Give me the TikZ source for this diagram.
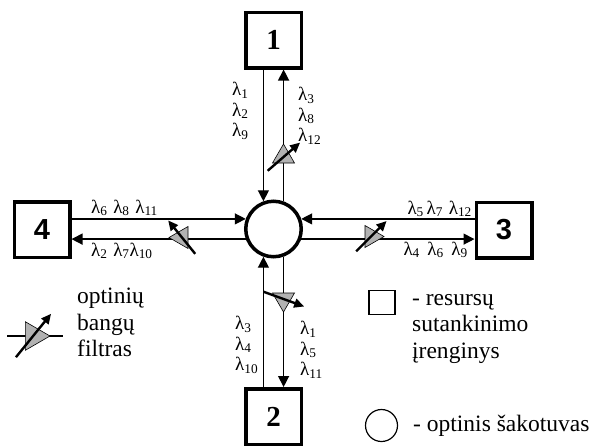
\documentclass[tikz,border=0pt]{standalone}
\usepackage{fontspec}
\setmainfont{Liberation Serif}
\newfontfamily\arialfont{Liberation Sans}
\usetikzlibrary{arrows.meta}

\tikzset{pics/filtras/.style={code={
    \draw[fill=gray!60, line width=0.6pt] (10,0) -- (-9,11) -- (-9,-11) -- cycle;
    \draw[line width=2.4pt, -{Triangle[length=10pt, width=9pt]}] (-3,0) ++(#1+180:21) -- ++(#1:43);
}}}

\begin{document}
\begin{tikzpicture}[x=1pt, y=1pt,
    blokas/.style={draw, line width=3.5pt, minimum size=55.5pt, inner sep=0pt, font=\fontsize{29}{29}\selectfont\bfseries},
    saka/.style={circle, draw, line width=3.5pt, minimum size=55.5pt, inner sep=0pt},
    kanalas/.style={line width=1.3pt, -{Triangle[length=11pt, width=11pt]}},
    bangos/.style={font=\fontsize{19}{20.5}\selectfont, inner sep=0pt, align=left},
    tekstas/.style={font=\fontsize{23.5}{26.5}\selectfont, inner sep=0pt, align=left}]
    \useasboundingbox (0,0) rectangle (596,-445);
    % Multiplexers and splitter
    \node[blokas] (b1) at (273.5,-40) {1};
    \node[blokas] (b2) at (273.5,-416.5) {2};
    \node[blokas, font=\fontsize{29}{29}\selectfont\arialfont\bfseries] (b3) at (504,-230) {3};
    \node[blokas, font=\fontsize{29}{29}\selectfont\arialfont\bfseries] (b4) at (42,-229.5) {4};
    \node[saka] (hub) at (273.5,-229) {};
    % Channels
    \draw[kanalas] (b1.south -| hub.110) -- (hub.110);
    \draw[kanalas] (hub.70) -- (hub.70 |- b1.south);
    \draw[kanalas] (b4.east |- hub.160) -- (hub.160);
    \draw[kanalas] (hub.200) -- (b4.east |- hub.200);
    \draw[kanalas] (b3.west |- hub.20) -- (hub.20);
    \draw[kanalas] (hub.340) -- (b3.west |- hub.340);
    \draw[kanalas] (b2.north -| hub.250) -- (hub.250);
    \draw[kanalas] (hub.290) -- (hub.290 |- b2.north);
    % Filters
    \pic[rotate=90, yscale=-1] at (283.5,-154) {filtras=49};
    \pic[xscale=-1] at (179,-237.5) {filtras=51};
    \pic at (374,-236.5) {filtras=45};
    \pic[rotate=-90] at (283.5,-302) {filtras=70};
    % Wavelengths
    \node[bangos, anchor=north west] (w1) at (232,-82) {λ\textsubscript{1}\\λ\textsubscript{2}\\λ\textsubscript{9}};
    \node[bangos, anchor=north west] (w2) at (298,-87) {λ\textsubscript{3}\\λ\textsubscript{8}\\λ\textsubscript{12}};
    \node[bangos, anchor=north west] (w3) at (235,-316) {λ\textsubscript{3}\\λ\textsubscript{4}\\λ\textsubscript{10}};
    \node[bangos, anchor=north west] (w4) at (300,-321) {λ\textsubscript{1}\\λ\textsubscript{5}\\λ\textsubscript{11}};
    \node[bangos, anchor=base west] (w5) at (91,-213) {λ\textsubscript{6}\hspace{0.3em}λ\textsubscript{8}\hspace{0.3em}λ\textsubscript{11}};
    \node[bangos, anchor=base west] (w6) at (91,-256) {λ\textsubscript{2}\hspace{0.3em}λ\textsubscript{7}λ\textsubscript{10}};
    \node[bangos, anchor=base east] (w7) at (472,-214) {λ\textsubscript{5}\hspace{0.15em}λ\textsubscript{7}\hspace{0.3em}λ\textsubscript{12}};
    \node[bangos, anchor=base east] (w8) at (468,-255) {λ\textsubscript{4}\hspace{0.4em}λ\textsubscript{6}\hspace{0.4em}λ\textsubscript{9}};
    % Legend
    \draw[line width=1.3pt] (7,-336) -- (63,-336);
    \pic[scale=1.3] at (37,-336) {filtras=51};
    \node[tekstas, anchor=north west] (t1) at (77,-288) {optinių\\bangų\\filtras};
    \node[draw, line width=1.2pt, minimum width=26pt, minimum height=23.5pt] (kv) at (382,-302.5) {};
    \node[tekstas, anchor=north west] (t2) at (412,-294) {- resursų\\sutankinimo\\įrenginys};
    \node[circle, draw, line width=1.2pt, minimum size=32pt, inner sep=0pt] (ap) at (381.5,-425.5) {};
    \node[tekstas, anchor=base west] (t3) at (413,-431) {- optinis šakotuvas};
\end{tikzpicture}
\end{document}
